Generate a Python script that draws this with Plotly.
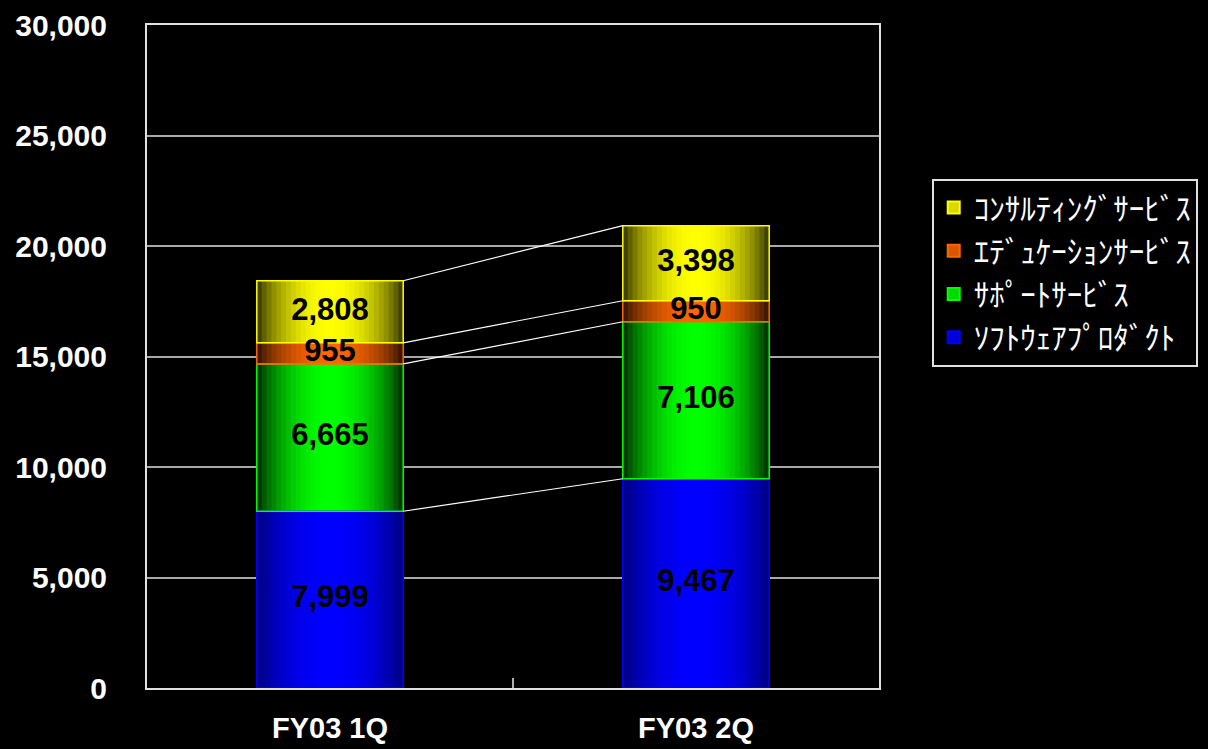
import math
import plotly.graph_objects as go

# Quarterly revenue by business segment (stacked)
quarters = ["FY03 1Q", "FY03 2Q"]
segments = ["ｿﾌﾄｳｪｱﾌﾟﾛﾀﾞｸﾄ", "ｻﾎﾟｰﾄｻｰﾋﾞｽ", "ｴﾃﾞｭｹｰｼｮﾝｻｰﾋﾞｽ", "ｺﾝｻﾙﾃｨﾝｸﾞｻｰﾋﾞｽ"]
software = [7999, 9467]
support = [6665, 7106]
education = [955, 950]
consulting = [2808, 3398]
y_ticks = [0, 5000, 10000, 15000, 20000, 25000, 30000]

series_values = [software, support, education, consulting]
series_rgb = [(0, 0, 255), (0, 255, 0), (255, 102, 0), (255, 255, 0)]
edge_floor = [0.45, 0.1, 0.12, 0.15]

xpos = list(range(len(quarters)))
bar_w = 0.4
n_slices = 30
slice_w = bar_w / n_slices

fig = go.Figure()


def shade(rgb, k):
    return "rgb({},{},{})".format(*[int(round(c * k)) for c in rgb])


bases = [0] * len(quarters)
stack_bases = []
for vals, rgb, floor in zip(series_values, series_rgb, edge_floor):
    stack_bases.append(list(bases))
    # horizontal gradient: dark at both edges, bright in the middle.
    # Each slice overlaps the next one so no seams show between them.
    for i in range(n_slices):
        t = (i + 0.5) / n_slices
        k = floor + (1 - floor) * math.sin(math.pi * t) ** 0.7
        w = slice_w if i == n_slices - 1 else slice_w * 1.8
        fig.add_trace(go.Bar(
            x=xpos, y=vals, base=bases,
            width=w, offset=-bar_w / 2 + i * slice_w,
            marker=dict(color=shade(rgb, k), line=dict(width=0)),
            showlegend=False, hoverinfo="skip",
        ))
    bases = [b + v for b, v in zip(bases, vals)]

# segment outlines
for vals, rgb, base in zip(series_values, series_rgb, stack_bases):
    fig.add_trace(go.Bar(
        x=xpos, y=vals, base=base, width=bar_w, offset=-bar_w / 2,
        marker=dict(color="rgba(0,0,0,0)", line=dict(color=shade(rgb, 1), width=1.5)),
        showlegend=False, hoverinfo="skip",
    ))

# series lines joining segment tops between the two bars
for vals, base in zip(series_values, stack_bases):
    tops = [b + v for b, v in zip(base, vals)]
    fig.add_trace(go.Scatter(
        x=[xpos[0] + bar_w / 2, xpos[1] - bar_w / 2], y=tops,
        mode="lines", line=dict(color="white", width=1.2),
        showlegend=False, hoverinfo="skip",
    ))

# value labels centred in each segment
for vals, base in zip(series_values, stack_bases):
    fig.add_trace(go.Scatter(
        x=xpos, y=[b + v / 2 for b, v in zip(base, vals)],
        mode="text", text=[f"{v:,}" for v in vals],
        textfont=dict(family="Liberation Sans, Arial", size=31, color="black", weight="bold"),
        showlegend=False, hoverinfo="skip",
    ))

# legend entries
for name, rgb in zip(segments, series_rgb):
    fig.add_trace(go.Bar(
        x=[None], y=[None], name=name,
        marker=dict(color=shade(rgb, 0.85), line=dict(color=shade(rgb, 1), width=2)),
        legendgroup=name,
    ))

fig.update_layout(
    barmode="overlay",
    width=1208, height=749,
    paper_bgcolor="black", plot_bgcolor="black",
    margin=dict(l=147, r=329, t=25, b=61, autoexpand=False),
    showlegend=True,
    legend=dict(
        x=1.072, xanchor="left", y=0.768, yanchor="top",
        traceorder="reversed", tracegroupgap=10,
        bgcolor="black", bordercolor="#e0e0e0", borderwidth=2,
        font=dict(family="Noto Sans CJK JP", size=31, color="white"),
    ),
    xaxis=dict(
        range=[-0.5, 1.5], tickvals=xpos, ticktext=quarters,
        ticks="", showgrid=False, zeroline=False, automargin=False,
        showline=True, linecolor="#e0e0e0", linewidth=2, mirror=True,
        tickfont=dict(family="Liberation Sans, Arial", size=29, color="white", weight="bold"),
        ticklabelstandoff=13,
        minor=dict(tickmode="array", tickvals=[(xpos[0] + xpos[1]) / 2],
                   ticks="inside", ticklen=10,
                   tickcolor="#b0b0b0", tickwidth=2, showgrid=False),
    ),
    yaxis=dict(
        range=[0, 30000], tickvals=y_ticks, tickformat=",d",
        showgrid=True, gridcolor="#a8a8a8", gridwidth=1.5, zeroline=False,
        showline=True, linecolor="#e0e0e0", linewidth=2, mirror=True,
        ticks="", automargin=False,
        tickfont=dict(family="Liberation Sans, Arial", size=30, color="white", weight="bold"),
        ticklabelstandoff=32,
    ),
)

fig.write_html("out.html")
